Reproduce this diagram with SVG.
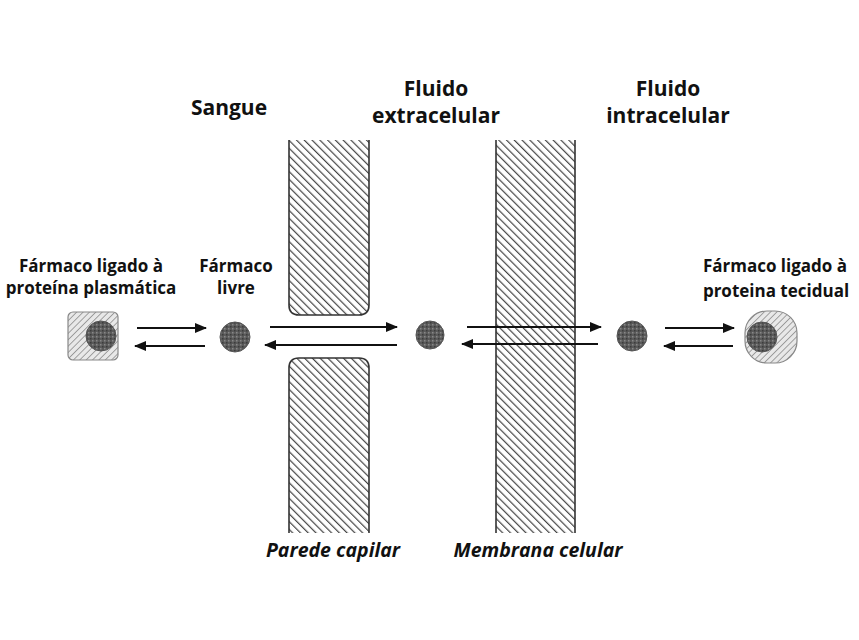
<svg xmlns="http://www.w3.org/2000/svg" width="859" height="640" viewBox="0 0 859 640">
<style>
.t{font-family:"Open Sans","Liberation Sans",sans-serif;font-weight:bold;fill:#111;text-anchor:middle}
.h{font-size:21px}
.s{font-size:17px}
.i{font-size:19.5px;font-style:italic}
.wall{fill:url(#hatch);stroke:#333;stroke-width:1.6}
.arr{stroke:#111;stroke-width:2;fill:none;marker-end:url(#ah)}
.drug{fill:url(#speck);stroke:#555;stroke-width:1}
</style>
<defs>
<pattern id="hatch" patternUnits="userSpaceOnUse" width="5.5" height="5.5" patternTransform="rotate(-45)">
<rect width="5.5" height="5.5" fill="#fff"/>
<line x1="0" y1="0" x2="0" y2="5.5" stroke="#444" stroke-width="2.4"/>
</pattern>
<pattern id="lhatch" patternUnits="userSpaceOnUse" width="4.5" height="4.5" patternTransform="rotate(45)">
<rect width="4.5" height="4.5" fill="#e8e8e8"/>
<line x1="0" y1="0" x2="0" y2="4.5" stroke="#888" stroke-width="1.5"/>
</pattern>
<pattern id="speck" patternUnits="userSpaceOnUse" width="4" height="4">
<rect width="4" height="4" fill="#5a5a5a"/>
<rect x="0" y="0" width="1.5" height="1.5" fill="#888"/>
<rect x="2" y="2" width="1.5" height="1.5" fill="#3c3c3c"/>
</pattern>
<marker id="ah" markerWidth="12" markerHeight="10" refX="11" refY="5" orient="auto" markerUnits="userSpaceOnUse">
<path d="M0,0 L12,5 L0,10 Z" fill="#111"/>
</marker>
</defs>
<rect width="859" height="640" fill="#fff"/>

<g id="capillary-wall">
<path class="wall" d="M289,140 V305 Q289,315 299,315 H359 Q369,315 369,305 V140"/>
<path class="wall" d="M289,533 V368 Q289,358 299,358 H359 Q369,358 369,368 V533"/>
</g>
<g id="cell-membrane">
<rect x="496" y="140" width="79" height="393" fill="url(#hatch)"/>
<path d="M496,140 V533 M575,140 V533" stroke="#333" stroke-width="1.6" fill="none"/>
</g>

<g id="plasma-protein-bound">
<rect x="68" y="312" width="50" height="48" rx="5" fill="url(#lhatch)" stroke="#888" stroke-width="1.2"/>
<circle class="drug" cx="101" cy="336" r="15"/>
</g>
<g id="free-drug-blood"><circle class="drug" cx="235" cy="337" r="15"/></g>
<g id="free-drug-ecf"><circle class="drug" cx="430" cy="335" r="14"/></g>
<g id="free-drug-icf"><circle class="drug" cx="632" cy="336" r="15"/></g>
<g id="tissue-protein-bound">
<rect x="745" y="311" width="52" height="52" rx="22" fill="url(#lhatch)" stroke="#888" stroke-width="1.2"/>
<circle class="drug" cx="762" cy="337" r="15"/>
</g>

<g id="connectors">
<line class="arr" x1="137" y1="328" x2="206" y2="328"/>
<line class="arr" x1="205" y1="346" x2="135" y2="346"/>
<line class="arr" x1="270" y1="327" x2="397" y2="327"/>
<line class="arr" x1="397" y1="345" x2="265" y2="345"/>
<line class="arr" x1="467" y1="327" x2="601" y2="327"/>
<line class="arr" x1="598" y1="344" x2="462" y2="344"/>
<line class="arr" x1="665" y1="328" x2="734" y2="328"/>
<line class="arr" x1="733" y1="346" x2="664" y2="346"/>
</g>

<g id="labels">
<text class="t h" x="229" y="115">Sangue</text>
<text class="t h" x="436" y="96">Fluido</text>
<text class="t h" x="436" y="123">extracelular</text>
<text class="t h" x="668" y="96">Fluido</text>
<text class="t h" x="668" y="123">intracelular</text>
<text class="t s" x="91" y="272">Fármaco ligado à</text>
<text class="t s" x="91" y="294">proteína plasmática</text>
<text class="t s" x="236" y="272">Fármaco</text>
<text class="t s" x="236" y="294">livre</text>
<text class="t s" x="775" y="272">Fármaco ligado à</text>
<text class="t s" x="776" y="297">proteina tecidual</text>
<text class="t i" x="333" y="557">Parede capilar</text>
<text class="t i" x="538" y="557">Membrana celular</text>
</g>
</svg>
